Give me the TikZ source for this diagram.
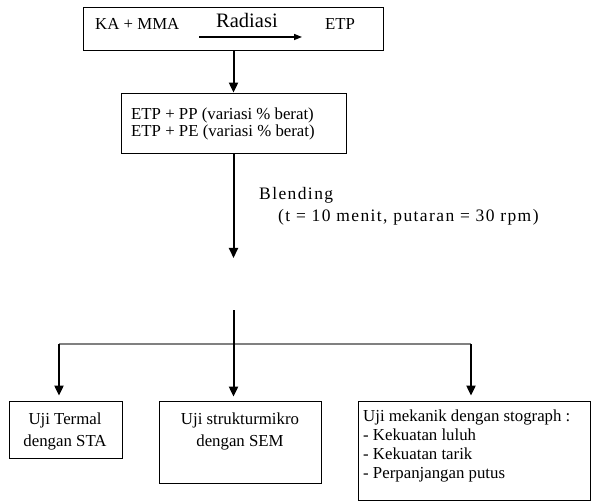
\documentclass[tikz,border=0pt]{standalone}
\usepackage{fontspec}
\setmainfont{Liberation Serif}
\usetikzlibrary{arrows.meta}

\tikzset{
  box/.style={draw=black, line width=0.8pt, inner sep=0pt},
  flow/.style={line width=2pt, -{Triangle[length=10pt,width=9pt]}},
  txt/.style={inner sep=0pt, font=\fontsize{16.8}{19}\selectfont},
  note/.style={inner sep=0pt, anchor=base west,
    font=\fontsize{17.5}{20}\selectfont\addfontfeature{LetterSpace=8}},
}

\begin{document}
\begin{tikzpicture}[x=1pt,y=-1pt]
      \useasboundingbox (0,0) rectangle (591,502);

      % 1. kotak atas: KA + MMA --> ETP
      \node[box, minimum width=300pt, minimum height=43pt] (start) at (233.5,28.5) {};
      \node[txt, anchor=base west] (kamma) at (95,30) {KA + MMA};
      \node[txt, anchor=base west, font=\fontsize{20.5}{22}\selectfont] (radiasi) at (216,28) {Radiasi};
      \node[txt, anchor=base west] (etp) at (325,30) {ETP};
      \coordinate (rad_1) at (199,37);
      \coordinate (rad_2) at (302,37);
      \draw[line width=1.4pt, -{Triangle[length=8pt,width=6pt]}] (rad_1) -- (rad_2);

      % 2. kotak campuran
      \node[box, minimum width=225pt, minimum height=60pt] (mix) at (233.5,123) {};
      \node[txt, anchor=west, align=left, font=\fontsize{16.8}{17}\selectfont] (mixtxt) at (131,124)
        {ETP + PP (variasi \% berat)\\ETP + PE (variasi \% berat)};
      \draw[flow] (start.south) -- (mix.north);

      % 3. blending
      \coordinate (mix_end) at (233.5,258);
      \draw[flow] (mix.south) -- (mix_end);
      \node[note] (blend) at (259,200) {Blending};
      \node[note] (cond) at (278,222) {(t = 10 menit, putaran = 30 rpm)};

      % 4. percabangan ke tiga uji
      \coordinate (split) at (233.5,310);
      \coordinate (fork_l) at (59,344);
      \coordinate (fork_r) at (471,344);
      \draw[gray, line width=1.5pt] (fork_l) -- (fork_r);

      \node[box, minimum width=113pt, minimum height=57pt] (termal) at (65.5,429.5) {};
      \node[txt, align=center, font=\fontsize{16.8}{22}\selectfont] (termaltxt) at (65,431)
        {Uji Termal\\dengan STA};
      \node[box, minimum width=162pt, minimum height=82pt] (sem) at (240,442) {};
      \node[txt, align=center, font=\fontsize{16.8}{22}\selectfont] (semtxt) at (240,431)
        {Uji strukturmikro\\dengan SEM};
      \node[box, minimum width=232pt, minimum height=99pt] (mekanik) at (474,450.5) {};
      \node[txt, anchor=west, align=left] (mekaniktxt) at (363,446)
        {Uji mekanik dengan stograph :\\- Kekuatan luluh\\- Kekuatan tarik\\- Perpanjangan putus};

      \draw[flow, shorten >=5pt] (fork_l) -- (fork_l |- termal.north);
      \draw[flow, shorten >=4pt] (split) -- (split |- sem.north);
      \draw[flow, shorten >=5pt] (fork_r) -- (fork_r |- mekanik.north);
\end{tikzpicture}
\end{document}
